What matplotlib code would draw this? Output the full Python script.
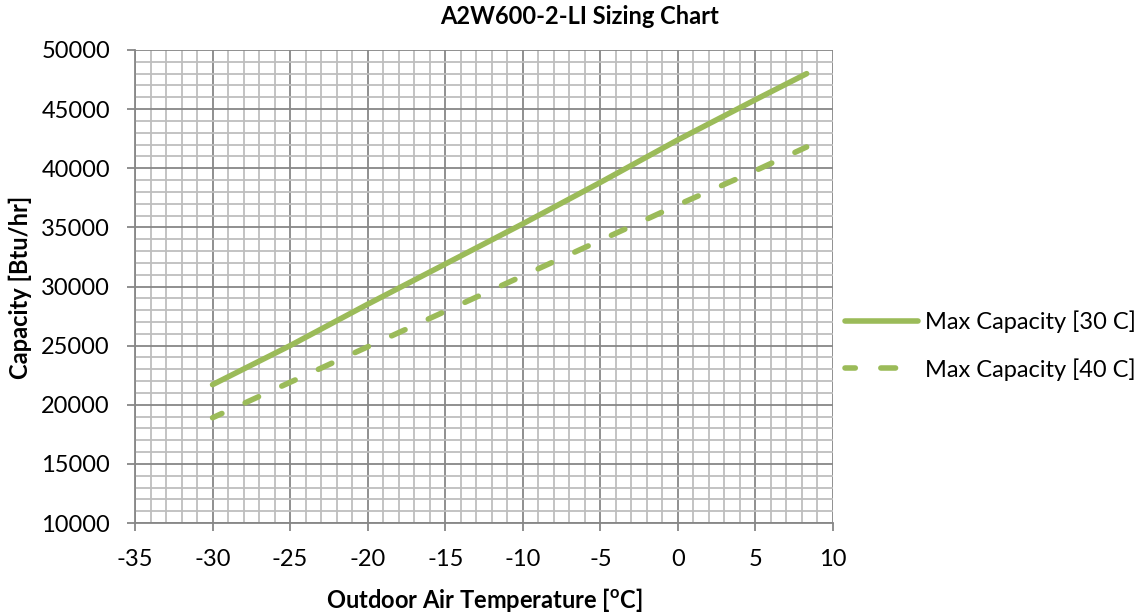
import numpy as np
import matplotlib
matplotlib.use('Agg')
import matplotlib.pyplot as plt
from matplotlib.ticker import MultipleLocator

# 데이터
temps = [-30, -25, -20, -15, -10, -5, 0, 5, 8.3]  # 외기 온도 [C]
cap_30c = [21700, 25000, 28500, 31900, 35300, 38800, 42400, 45800, 48000]  # Max Capacity [30 C]
cap_40c = [18900, 21900, 24900, 27900, 30900, 33900, 36900, 39800, 41800]  # Max Capacity [40 C]

plt.rcParams['font.family'] = ['Lato', 'DejaVu Sans']
plt.rcParams['axes.unicode_minus'] = False
plt.rcParams['mathtext.fontset'] = 'custom'
plt.rcParams['mathtext.rm'] = 'Lato'
plt.rcParams['mathtext.bf'] = 'Lato:bold'

green = '#9BBB59'
fs = 17

fig = plt.figure(figsize=(11.43, 6.15), dpi=100)
ax = fig.add_axes([135/1143, 1 - 523/615, (833-135)/1143, (523-50)/615])

ax.plot(temps, cap_30c, color=green, lw=4, solid_capstyle='round', label='Max Capacity [30 C]')
ax.plot(temps, cap_40c, color=green, lw=4, linestyle=(0.8, (2.65, 4.6)), dash_capstyle='round',
        label='Max Capacity [40 C]')

ax.set_xlim(-35, 10)
ax.set_ylim(10000, 50000)
ax.xaxis.set_major_locator(MultipleLocator(5))
ax.xaxis.set_minor_locator(MultipleLocator(1))
ax.yaxis.set_major_locator(MultipleLocator(5000))
ax.yaxis.set_minor_locator(MultipleLocator(1000))

# 그리드
ax.grid(which='minor', color='#BEBEBE', lw=1.3)
ax.grid(which='major', color='#878787', lw=1.3)
ax.set_axisbelow(True)

for s in ['top', 'right']:
    ax.spines[s].set_visible(False)
for s in ['left', 'bottom']:
    ax.spines[s].set_color('#878787')
    ax.spines[s].set_linewidth(1.3)

ax.tick_params(which='major', length=6, width=1.3, color='#878787', labelsize=fs)
ax.tick_params(axis='y', pad=12)
ax.tick_params(axis='x', pad=13)
ax.tick_params(which='minor', length=0)

fig.text(579/1143, 1 - 17/615, 'A2W600-2-LI Sizing Chart', ha='center', va='center',
         fontsize=fs, fontweight='bold')
fig.text(20/1143, 1 - 287/615, 'Capacity [Btu/hr]', ha='center', va='center',
         rotation=90, fontsize=fs, fontweight='bold')
fig.text(484/1143, 1 - 600/615, r'Outdoor Air Temperature [$\mathbf{^{o}}$C]', ha='center',
         va='center', fontsize=fs, fontweight='bold')

ax.legend(loc='center left', bbox_to_anchor=(845/1143, 1 - 345.5/615),
          bbox_transform=fig.transFigure, frameon=False, fontsize=fs,
          handlelength=3.1, handletextpad=0.3, labelspacing=1.05,
          borderpad=0, borderaxespad=0)

plt.savefig('out.png', dpi=100)
